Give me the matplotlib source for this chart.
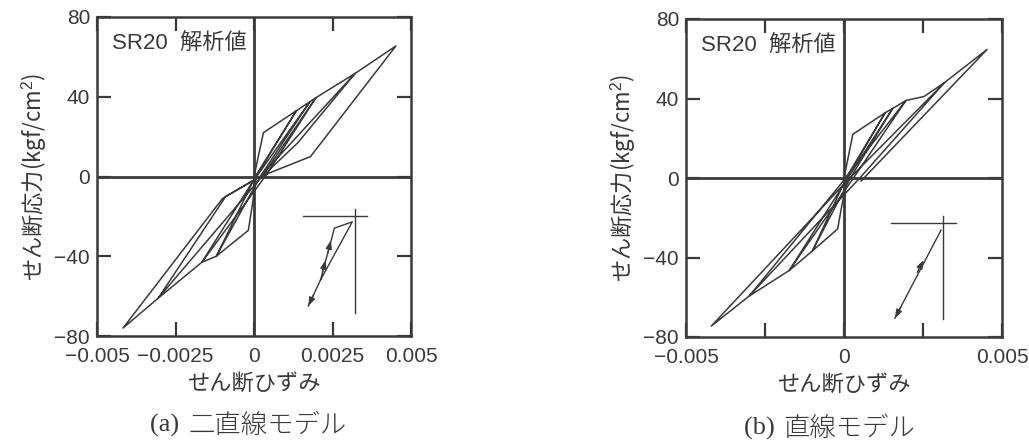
import matplotlib
matplotlib.use("Agg")
import matplotlib.pyplot as plt

# ---------------- data ----------------
# (a) bilinear model: shear strain / shear stress (kgf/cm2)
strain_a = [0, 0.0003, 0.00135, 0.00008, -0.00006, -0.00018, -0.0012,
            -0.00005, 0.00135, 0.00178, 0.0002, -0.0012, -0.00166,
            -0.0001, 0.00178, 0.00197, 0.0004, -0.00166, -0.00305,
            -0.0009, 0.0003, 0.00197, 0.00322, 0.0014, 0.0002,
            -0.00305, -0.00417, -0.001, 0.0002, 0.00322, 0.00452,
            0.0018, 0.00008]
stress_a = [0, 22, 33, 1, -15, -27, -40,
            -3, 33, 37.5, 0, -40, -43,
            -4, 37.5, 39.5, 1, -43, -61,
            -10, 1, 39.5, 51.7, 17, -1,
            -61, -76, -11, 0, 51.7, 65.5,
            10, -0.8]

# (b) linear model
strain_b = [0, 0.00028, 0.0013, 0.0001, -0.0001, -0.0002, -0.001,
            0.0001, 0.0013, 0.00154, 0.0002, -0.001, -0.00173,
            0.0, 0.00154, 0.00196, 0.0003, -0.00173, -0.003,
            -0.0002, 0.00196, 0.00253, 0.00318, 0.0005, -0.003,
            -0.0042, -0.0005, 0.0, 0.00318, 0.00453, 0.00054]
stress_b = [0, 22, 32.8, 0, -16.6, -25.6, -36.7,
            1, 32.8, 35, 0, -36.7, -46.5,
            -3, 35, 39, 0, -46.5, -59.4,
            -5, 39, 41, 48, 0, -59.4,
            -74.5, -11.6, -3, 48, 64.7, -1.5]

yticks = [-80, -40, 0, 40, 80]
ytick_labels = ["\u221280", "\u221240", "0", "40", "80"]
xticks = [-0.005, -0.0025, 0, 0.0025, 0.005]
xtick_labels_a = ["\u22120.005", "\u22120.0025", "0", "0.0025", "0.005"]
xtick_labels_b = ["\u22120.005", "", "0", "", "0.005"]

panel_text = "SR20  解析値"
xlabel = "せん断ひずみ"
ylabel = "せん断応力(kgf/cm$^2$)"
caption_a = ("(a)", "二直線モデル")
caption_b = ("(b)", "直線モデル")

# schematic insets (axes fractions)
inset_a_h = ([0.656, 0.860], [0.377, 0.377])
inset_a_v = ([0.822, 0.822], [0.398, 0.072])
inset_a_path = ([0.673, 0.712, 0.756, 0.813, 0.712], [0.094, 0.176, 0.338, 0.358, 0.176])
inset_b_h = ([0.649, 0.853], [0.358, 0.358])
inset_b_v = ([0.814, 0.814], [0.379, 0.056])
inset_b_path = ([0.807, 0.661], [0.336, 0.059])

# ---------------- style ----------------
INK = "#3a3a3a"
JP = ["Noto Sans CJK JP", "DejaVu Sans"]
LAT = ["Liberation Sans", "Noto Sans CJK JP"]
plt.rcParams["font.family"] = LAT
plt.rcParams["mathtext.fontset"] = "custom"
plt.rcParams["mathtext.rm"] = "Liberation Sans"

fig = plt.figure(figsize=(10.29, 4.41), dpi=100)
ax_a = fig.add_axes([97/1029, 105/441, 314/1029, 319/441])
ax_b = fig.add_axes([686/1029, 104/441, 316/1029, 318/441])


def style(ax, xlabels):
    ax.set_xlim(-0.005, 0.005)
    ax.set_ylim(-80, 80)
    ax.axhline(0, color=INK, lw=2.0, zorder=1)
    ax.axvline(0, color=INK, lw=2.0, zorder=1)
    for s in ax.spines.values():
        s.set_linewidth(1.8)
        s.set_color(INK)
    ax.set_xticks(xticks)
    ax.set_xticklabels(xlabels)
    ax.set_yticks(yticks)
    ax.set_yticklabels(ytick_labels)
    ax.tick_params(direction="in", length=10, width=1.6, colors=INK,
                   top=True, right=True, labelsize=15)
    ax.tick_params(axis="x", pad=8)
    ax.tick_params(axis="y", pad=5)
    for t in ax.get_xticklabels() + ax.get_yticklabels():
        t.set_color(INK)
    ax.set_xlabel(xlabel, family=JP, fontsize=16, color=INK, labelpad=4)
    ax.set_ylabel(ylabel, family=JP, fontsize=16, color=INK, labelpad=4)
    ax.text(0.048, 0.918, panel_text, transform=ax.transAxes, family=LAT,
            fontsize=16, color=INK, va="center", ha="left")


style(ax_a, xtick_labels_a)
style(ax_b, xtick_labels_b)

ax_a.plot(strain_a, stress_a, color=INK, lw=1.1, zorder=2)
ax_b.plot(strain_b, stress_b, color=INK, lw=1.1, zorder=2)

# inset schematics
for ax, h, v, p in [(ax_a, inset_a_h, inset_a_v, inset_a_path),
                    (ax_b, inset_b_h, inset_b_v, inset_b_path)]:
    ax.plot(h[0], h[1], color=INK, lw=1.0, transform=ax.transAxes)
    ax.plot(v[0], v[1], color=INK, lw=1.0, transform=ax.transAxes)
    ax.plot(p[0], p[1], color=INK, lw=1.0, transform=ax.transAxes)

ap = dict(arrowstyle="-|>,head_length=0.5,head_width=0.18", color=INK, lw=1.0,
          shrinkA=0, shrinkB=0)
# (a) arrows
ax_a.annotate("", xy=(0.673, 0.094), xytext=(0.69, 0.13), xycoords="axes fraction",
              textcoords="axes fraction", arrowprops=ap)
ax_a.annotate("", xy=(0.745, 0.30), xytext=(0.735, 0.26), xycoords="axes fraction",
              textcoords="axes fraction", arrowprops=ap)
ax_a.annotate("", xy=(0.728, 0.238), xytext=(0.718, 0.20), xycoords="axes fraction",
              textcoords="axes fraction", arrowprops=ap)
# (b) arrows
ax_b.annotate("", xy=(0.661, 0.059), xytext=(0.68, 0.095), xycoords="axes fraction",
              textcoords="axes fraction", arrowprops=ap)
ax_b.annotate("", xy=(0.752, 0.242), xytext=(0.732, 0.203), xycoords="axes fraction",
              textcoords="axes fraction", arrowprops=ap)

# captions
def caption(xc, y, parts):
    fig.text(xc - 0.002, y, parts[0] + " ", family=["Liberation Serif"], fontsize=19,
             color=INK, ha="right", va="center")
    fig.text(xc, y, parts[1], family=JP, fontsize=19, weight="light",
             color=INK, ha="left", va="center")

caption(188/1029, 1 - 425/441, caption_a)
caption(783/1029, 1 - 428/441, caption_b)

fig.savefig("out.png", dpi=100)
